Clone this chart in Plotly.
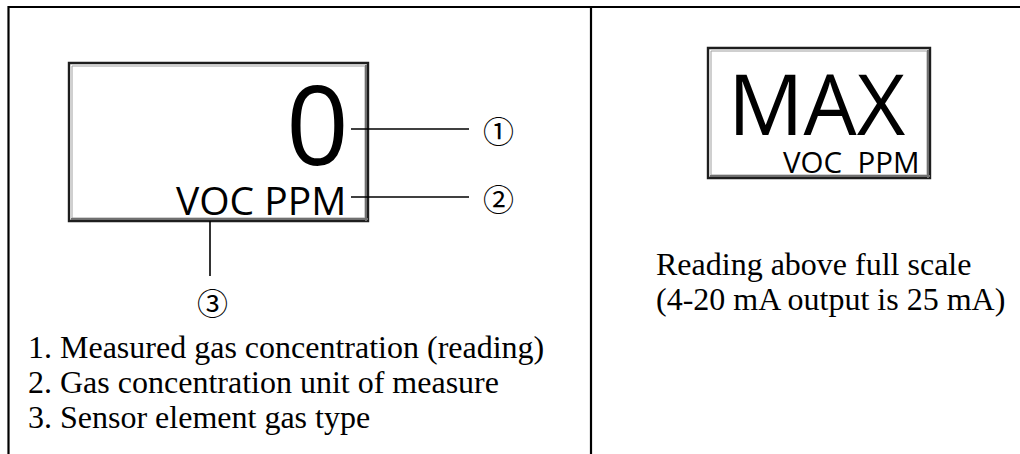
import plotly.graph_objects as go

# ---- content ----
reading_value = ["0"]
unit_label = ["VOC PPM"]
max_label = ["MAX"]
max_unit_label = ["VOC\u00a0\u00a0PPM"]
callout_marks = ["\u2460", "\u2461", "\u2462"]
legend_items = [
    "1. Measured gas concentration (reading)",
    "2. Gas concentration unit of measure",
    "3. Sensor element gas type",
]
max_notes = [
    "Reading above full scale",
    "(4-20 mA output is 25 mA)",
]

W, H = 1020, 454
SANS = "Open Sans"
SERIF = "Liberation Serif"
CIRC = "Noto Sans CJK JP"
INK = "#000000"

fig = go.Figure()
fig.add_trace(go.Scatter(x=[0, W], y=[0, H], mode="markers",
                         marker=dict(opacity=0), hoverinfo="skip", showlegend=False))

shapes = []

def line(x0, y0, x1, y1, w=1.5, c=INK):
    shapes.append(dict(type="line", x0=x0, y0=y0, x1=x1, y1=y1,
                       xref="x", yref="y", line=dict(color=c, width=w)))

def display_box(x0, y0, x1, y1):
    # grey inner edge + dark outline with heavier bottom/right shadow
    shapes.append(dict(type="rect", x0=x0 + 3, y0=y0 + 3, x1=x1 - 3, y1=y1 - 3,
                       xref="x", yref="y", line=dict(color="#a0a0a0", width=1.0)))
    shapes.append(dict(type="rect", x0=x0, y0=y0, x1=x1, y1=y1,
                       xref="x", yref="y", line=dict(color="#1e1e1e", width=2.4)))
    line(x0 + 2, y1 - 2, x1, y1 - 2, w=2.0, c="#707070")
    line(x1 - 2, y0 + 2, x1 - 2, y1, w=2.0, c="#707070")

# outer frame and divider
line(8, 7, W, 7, w=2.2)
line(8.5, 6, 8.5, H, w=2.2)
line(591, 6, 591, H, w=2.2)

# display boxes
display_box(69, 63, 368, 221)
display_box(708, 48, 930, 178)

# callout leader lines
line(351, 129, 469, 129, w=1.6)
line(351, 197, 469, 197, w=1.6)
line(210, 221, 210, 276, w=1.6)

ann = []

def text(x, y, s, size, family, xanchor="left", color=INK):
    ann.append(dict(x=x, y=y, xref="x", yref="y", text=s, showarrow=False,
                    xanchor=xanchor, yanchor="middle",
                    font=dict(size=size, family=family, color=color)))

# left display
text(351, 122, reading_value[0], 110, SANS, xanchor="right")
text(348, 199, unit_label[0], 39, SANS, xanchor="right")

# callout marks
text(498, 129, callout_marks[0], 31, CIRC, xanchor="center")
text(498, 197, callout_marks[1], 31, CIRC, xanchor="center")
text(212, 301, callout_marks[2], 31, CIRC, xanchor="center")

# legend list
for i, s in enumerate(legend_items):
    text(26, 347 + 35 * i, s, 32, SERIF)

# right display
text(726, 102, max_label[0], 84, SANS)
text(921, 161, max_unit_label[0], 29.5, SANS, xanchor="right")

# right notes
for i, s in enumerate(max_notes):
    text(654, 264 + 35 * i, s, 32, SERIF)

fig.update_layout(
    width=W, height=H,
    margin=dict(l=0, r=0, t=0, b=0),
    paper_bgcolor="white", plot_bgcolor="white",
    xaxis=dict(range=[0, W], visible=False, fixedrange=True),
    yaxis=dict(range=[H, 0], visible=False, fixedrange=True),
    shapes=shapes, annotations=ann, showlegend=False,
)

fig.write_html("out.html", config={"displayModeBar": False},
               post_script="document.body.style.margin='0';document.body.style.overflow='hidden';")
